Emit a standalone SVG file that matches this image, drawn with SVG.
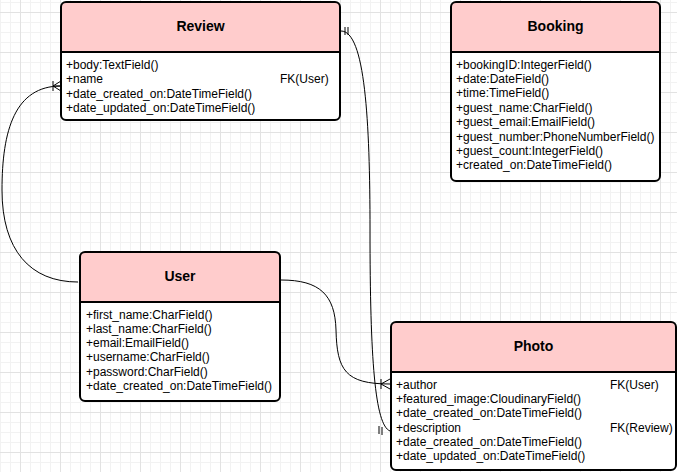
<svg xmlns="http://www.w3.org/2000/svg" width="677" height="472" viewBox="0 0 677 472">
<defs>
<pattern id="grid" patternUnits="userSpaceOnUse" x="20" y="12" width="40" height="40">
<path d="M10.5 0V40M20.5 0V40M30.5 0V40M0 10.5H40M0 20.5H40M0 30.5H40" stroke="#f2f2f2" stroke-width="1" fill="none"/>
<path d="M0.5 0V40M0 0.5H40" stroke="#e2e2e2" stroke-width="1" fill="none"/>
</pattern>
</defs>
<style>
.box{fill:none;stroke:#000;stroke-width:2}
.head{fill:#ffcccc}
.sep{stroke:#000;stroke-width:2}
.title{font-family:"Liberation Sans",Arial,sans-serif;font-size:14px;font-weight:bold;text-anchor:middle;fill:#000}
.row{font-family:"Liberation Sans",Arial,sans-serif;font-size:12px;fill:#000}
.edge{fill:none;stroke:#000;stroke-width:1}
</style>
<rect x="0" y="0" width="677" height="472" fill="#ffffff"/>
<rect x="0" y="0" width="677" height="472" fill="url(#grid)"/>

<g id="connectors">
<path class="edge" d="M78 282 C30 282 2 250 2 190 C2 130 15 86 61 86"/>
<path class="edge" d="M53 81 V91 M53 86 L61 81 M53 86 L61 86 M53 86 L61 91"/>
<path class="edge" d="M281 280 C320 280 335 295 336 330 C337 370 345 384 390 384"/>
<path class="edge" d="M381 379 V389 M381 384 L390 379 M381 384 L390 389"/>
<path class="edge" d="M341 31 C365 31 370 120 370 230 C370 360 375 425 390 431"/>
<path class="edge" d="M345 27 V35 M348 27 V35"/>
<path class="edge" d="M379 426 V434 M382 427 V435"/>
</g>

<g id="review">
<rect class="head" x="61" y="2" width="279" height="50" rx="5"/>
<rect class="head" x="61" y="40" width="279" height="12"/>
<rect fill="#ffffff" x="61" y="52" width="279" height="68"/>
<rect class="box" x="61" y="2" width="279" height="118" rx="5"/>
<line class="sep" x1="61" y1="52" x2="340" y2="52"/>
<text class="title" x="200.5" y="31">Review</text>
<text class="row" x="66" y="68.5">+body:TextField()</text>
<text class="row" x="66" y="83">+name</text>
<text class="row" x="280" y="83">FK(User)</text>
<text class="row" x="66" y="97.5">+date_created_on:DateTimeField()</text>
<text class="row" x="66" y="112">+date_updated_on:DateTimeField()</text>
</g>

<g id="booking">
<rect class="head" x="451" y="2" width="209" height="50" rx="5"/>
<rect class="head" x="451" y="40" width="209" height="12"/>
<rect fill="#ffffff" x="451" y="52" width="209" height="129"/>
<rect class="box" x="451" y="2" width="209" height="179" rx="5"/>
<line class="sep" x1="451" y1="52" x2="660" y2="52"/>
<text class="title" x="555.5" y="31">Booking</text>
<text class="row" x="456" y="68.5">+bookingID:IntegerField()</text>
<text class="row" x="456" y="82.9">+date:DateField()</text>
<text class="row" x="456" y="97.3">+time:TimeField()</text>
<text class="row" x="456" y="111.8">+guest_name:CharField()</text>
<text class="row" x="456" y="126.2">+guest_email:EmailField()</text>
<text class="row" x="456" y="140.6">+guest_number:PhoneNumberField()</text>
<text class="row" x="456" y="155">+guest_count:IntegerField()</text>
<text class="row" x="456" y="169.4">+created_on:DateTimeField()</text>
</g>

<g id="user">
<rect class="head" x="80" y="252" width="200" height="50" rx="5"/>
<rect class="head" x="80" y="290" width="200" height="12"/>
<rect fill="#ffffff" x="80" y="302" width="200" height="99"/>
<rect class="box" x="80" y="252" width="200" height="149" rx="5"/>
<line class="sep" x1="80" y1="302" x2="280" y2="302"/>
<text class="title" x="180" y="281">User</text>
<text class="row" x="86" y="318.5">+first_name:CharField()</text>
<text class="row" x="86" y="332.8">+last_name:CharField()</text>
<text class="row" x="86" y="347.1">+email:EmailField()</text>
<text class="row" x="86" y="361.4">+username:CharField()</text>
<text class="row" x="86" y="375.7">+password:CharField()</text>
<text class="row" x="86" y="390">+date_created_on:DateTimeField()</text>
</g>

<g id="photo">
<rect class="head" x="391" y="322" width="285" height="50" rx="5"/>
<rect class="head" x="391" y="360" width="285" height="12"/>
<rect fill="#ffffff" x="391" y="372" width="285" height="98"/>
<rect class="box" x="391" y="322" width="285" height="148" rx="5"/>
<line class="sep" x1="391" y1="372" x2="676" y2="372"/>
<text class="title" x="533.5" y="351">Photo</text>
<text class="row" x="396" y="389">+author</text>
<text class="row" x="610" y="389">FK(User)</text>
<text class="row" x="396" y="403.2">+featured_image:CloudinaryField()</text>
<text class="row" x="396" y="417.4">+date_created_on:DateTimeField()</text>
<text class="row" x="396" y="431.6">+description</text>
<text class="row" x="610" y="431.6">FK(Review)</text>
<text class="row" x="396" y="445.8">+date_created_on:DateTimeField()</text>
<text class="row" x="396" y="460">+date_updated_on:DateTimeField()</text>
</g>
</svg>
